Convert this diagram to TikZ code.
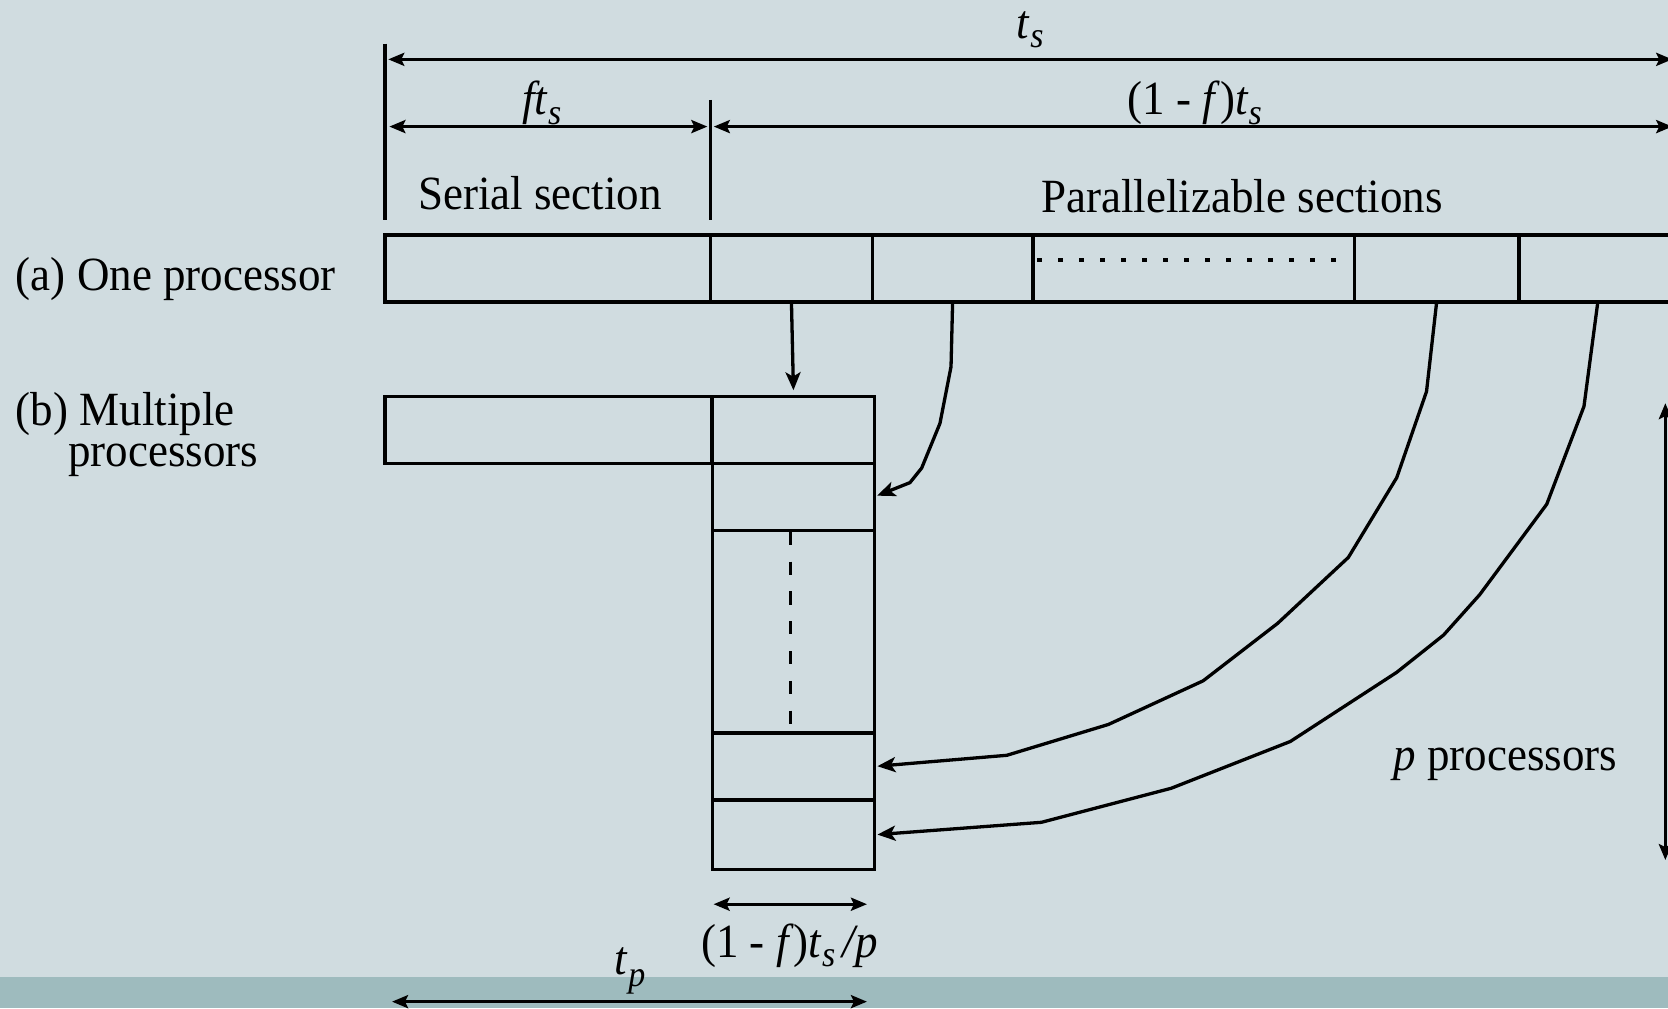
\documentclass[tikz,border=0pt]{standalone}
\usepackage{fontspec}
\usepackage{graphicx}
\setmainfont{Liberation Serif}
\usetikzlibrary{arrows.meta}
\definecolor{bgc}{RGB}{208,220,224}
\definecolor{bandc}{RGB}{158,187,190}
\newcommand{\sbs}[1]{\raisebox{-4.5pt}{\fontsize{17}{17}\selectfont\itshape #1}}
\newcommand{\tx}[1]{\scalebox{1}[1.06]{\fontsize{22.5}{27}\selectfont #1}}
\tikzset{
  cellbox/.style 2 args={draw, inner sep=0pt, outer sep=0pt, anchor=north west,
    minimum width={#1*0.53189pt}, minimum height={#2*0.53189pt}},
  lbl/.style={inner sep=0pt, outer sep=0pt, anchor=base west},
  dimline/.style={{Stealth[length=8pt,width=6.5pt,inset=1.5pt]}-{Stealth[length=8pt,width=6.5pt,inset=1.5pt]}},
  conn/.style={-{Stealth[length=9pt,width=7.5pt,inset=2.2pt]}, line join=round},
  dotpat/.style={dash pattern=on 2.4pt off 8.1pt, line width=1.8pt},
  dashpat/.style={dash pattern=on 6.6pt off 8.3pt, line width=1.5pt}
}
\begin{document}
\begin{tikzpicture}[x=0.53189pt,y=-0.53189pt,line width=1.65pt]
\useasboundingbox (0,0) rectangle (1568,948);
\fill[bgc] (0,0) rectangle (1568,948);
\fill[bandc] (0,918) rectangle (1568,948);

% row (a): one processor
\node[cellbox={306}{63}] (a0) at (362,221) {};
\node[cellbox={152}{63}] (a1) at (668,221) {};
\node[cellbox={151}{63}] (a2) at (820,221) {};
\node[cellbox={302}{63}] (a3) at (971,221) {};
\node[cellbox={155}{63}] (a4) at (1273,221) {};
\node[cellbox={148}{63}] (a5) at (1428,221) {};
\draw[dotpat] (975,244.4) -- (1257,244.4);

% row (b): multiple processors
\node[cellbox={307}{63}] (b0) at (362,372.5) {};
\node[cellbox={152}{63}] (c1) at (670,372.5) {};
\node[cellbox={152}{63}] (c2) at (670,435.5) {};
\node[cellbox={152}{190.5}] (c3) at (670,498.5) {};
\node[cellbox={152}{63}] (c4) at (670,689) {};
\node[cellbox={152}{65.5}] (c5) at (670,752) {};
\coordinate (d1) at (743.5,500);
\coordinate (d2) at (743.5,689);
\draw[dashpat] (d1) -- (d2);

% tick lines
\coordinate (t0a) at (362,41);
\coordinate (t0b) at (362,207);
\coordinate (t1a) at (668,94);
\coordinate (t1b) at (668,207);
\draw (t0a) -- (t0b);
\draw (t1a) -- (t1b);

% dimension lines
\coordinate (ts1) at (365,55.8);
\coordinate (ts2) at (1572,55.8);
\coordinate (ft1) at (366,119);
\coordinate (ft2) at (665,119);
\coordinate (pf1) at (671,119);
\coordinate (pf2) at (1572,119);
\coordinate (pp1) at (1565.5,379);
\coordinate (pp2) at (1565.5,808.5);
\coordinate (tq1) at (670.8,850);
\coordinate (tq2) at (815,850);
\coordinate (tp1) at (368.5,941.6);
\coordinate (tp2) at (815,941.6);
\draw[dimline] (ts1) -- (ts2);
\draw[dimline] (ft1) -- (ft2);
\draw[dimline] (pf1) -- (pf2);
\draw[dimline] (pp1) -- (pp2);
\draw[dimline] (tq1) -- (tq2);
\draw[dimline] (tp1) -- (tp2);

% connectors
\draw[conn, shorten >=3pt] (a1.south) -- (c1.north);
\draw[conn, shorten >=1.5pt] (a2.south) -- (894,344.7) -- (883.6,398) -- (866.4,440)
  -- (855.4,453.7) -- (c2.east);
\draw[conn, shorten >=1.5pt] (a4.south) -- (1341,368) -- (1313,449) -- (1267.5,524)
  -- (1201,586) -- (1131,640) -- (1042,681) -- (946.5,710) -- (c4.east);
\draw[conn, shorten >=1.5pt] (a5.south) -- (1489,382) -- (1454,474) -- (1391,559)
  -- (1357,597) -- (1313,632) -- (1213,697) -- (1101,741) -- (979,773) -- (c5.east);

% labels
\node[lbl] (lts) at (956,36) {\tx{\textit{t}\sbs{s}}};
\node[lbl] (lft) at (491,108) {\tx{\textit{ft}\sbs{s}}};
\node[lbl] (lpf) at (1060,108) {\tx{(1 - \textit{f})\textit{t}\sbs{s}}};
\node[lbl] (lser) at (393,197) {\tx{Serial section}};
\node[lbl] (lpar) at (979,200) {\tx{Parallelizable sections}};
\node[lbl] (la) at (15,273) {\tx{(a) One processor}};
\node[lbl] (lb1) at (15,400) {\tx{(b) Multiple}};
\node[lbl] (lb2) at (64,438.5) {\tx{processors}};
\node[lbl] (lpp) at (1310,724.5) {\tx{\textit{p} processors}};
\node[lbl] (ltq) at (659,900) {\tx{(1 - \textit{f})\textit{t}\sbs{s}\,\textit{/p}}};
\node[lbl] (ltp) at (578,916) {\tx{\textit{t}\raisebox{-5.5pt}{\fontsize{17}{17}\selectfont\itshape p}}};
\end{tikzpicture}
\end{document}
